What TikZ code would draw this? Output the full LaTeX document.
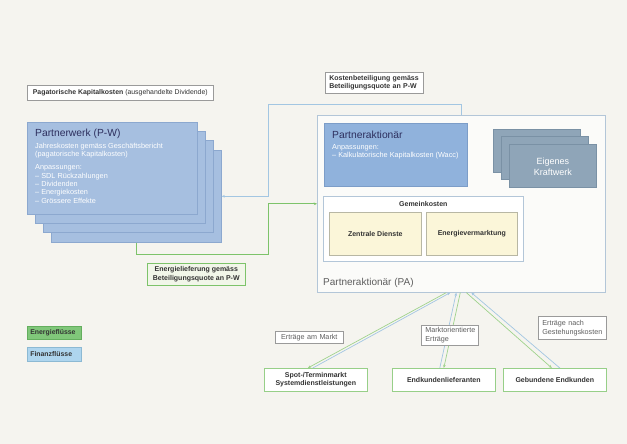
\documentclass[tikz,border=0pt]{standalone}
\usepackage{fontspec}
\setmainfont{Liberation Sans}
\usetikzlibrary{arrows.meta,calc}
\definecolor{bg}{HTML}{F5F4EF}
\definecolor{pwfill}{HTML}{A6BFE0}
\definecolor{pwborder}{HTML}{8CA8CF}
\definecolor{pafill}{HTML}{90B2DC}
\definecolor{paborder}{HTML}{7C9DC8}
\definecolor{kwfill}{HTML}{8FA5B8}
\definecolor{kwborder}{HTML}{7A91A5}
\definecolor{frameblue}{HTML}{B3C6D8}
\definecolor{lblborder}{HTML}{9A9A9A}
\definecolor{titlecol}{HTML}{2D2F5E}
\definecolor{txtdark}{HTML}{333333}
\definecolor{txtgray}{HTML}{5E5E5E}
\definecolor{yellowfill}{HTML}{FBF6D9}
\definecolor{yellowborder}{HTML}{B8B7A4}
\definecolor{engreen}{HTML}{7DC36A}
\definecolor{enlight}{HTML}{9FD28C}
\definecolor{finblue}{HTML}{A3C6E2}
\definecolor{legreen}{HTML}{80C77A}
\definecolor{legreenb}{HTML}{64AE5E}
\definecolor{leblue}{HTML}{AED5EE}
\definecolor{leblueb}{HTML}{8CB9D3}
\definecolor{energfill}{HTML}{F1F6E9}
\begin{document}
\begin{tikzpicture}[x=1pt,y=-1pt,
  box/.style={anchor=north west, inner sep=0pt, line width=0.6pt},
  pwcard/.style={box, draw=pwborder, fill=pwfill, minimum width=170pt, minimum height=92pt},
  kwcard/.style={box, draw=kwborder, fill=kwfill, minimum width=87pt, minimum height=43pt},
  lbl/.style={box, draw=lblborder, fill=white, inner xsep=4pt, font=\fontsize{7.2}{8.8}\selectfont, text=txtgray, align=left},
  blbl/.style={box, draw=lblborder, fill=white, font=\bfseries\fontsize{7}{8.6}\selectfont, text=txtdark, align=center},
  gbox/.style={box, draw=engreen!80!white, fill=white, font=\bfseries\fontsize{7}{8.6}\selectfont, text=txtdark, align=center, minimum width=103pt, minimum height=23pt},
  ybox/.style={box, draw=yellowborder, fill=yellowfill, font=\bfseries\fontsize{7}{8.4}\selectfont, text=txtdark, minimum width=91pt, minimum height=43pt},
  whitetxt/.style={anchor=north west, inner sep=0pt, text=white, align=left, font=\fontsize{7.3}{8.4}\selectfont},
  titletxt/.style={anchor=base west, inner sep=0pt, text=titlecol, font=\fontsize{10.3}{12}\selectfont},
  fin/.style={draw=finblue, line width=0.7pt},
  en/.style={draw=engreen, line width=0.9pt},
  enl/.style={draw=enlight, line width=0.7pt},
  tip/.style={-{Stealth[length=3.2pt,width=2.6pt]}}
]
\fill[bg] (0,0) rectangle (627,444);
\useasboundingbox (0,0) rectangle (627,444);

% label top-left
\node[box, draw=lblborder, fill=white, text=txtdark, font=\fontsize{6.9}{8.4}\selectfont,
  minimum width=186pt, minimum height=15pt] (pag) at (27,85)
  {\textbf{Pagatorische Kapitalkosten} (ausgehandelte Dividende)};

% Partnerwerk stack
\node[pwcard] (pw4) at (51,150) {};
\node[pwcard] (pw3) at (43,140) {};
\node[pwcard] (pw2) at (35,131) {};
\node[pwcard] (pw1) at (27,122) {};
\node[titletxt] (pwtitle) at ($(pw1.north west)+(8,14)$) {Partnerwerk (P-W)};
\node[whitetxt] (pwbody) at ($(pw1.north west)+(8,21)$)
  {Jahreskosten gemäss Geschäftsbericht\\(pagatorische Kapitalkosten)\\[4.5pt]
   Anpassungen:\\– SDL Rückzahlungen\\– Dividenden\\– Energiekosten\\– Grössere Effekte};

% Partneraktionaer outer box
\node[box, draw=frameblue, fill=white!60!bg, minimum width=288pt, minimum height=177pt] (pa) at (317,115) {};
\node[anchor=base west, inner sep=0pt, text=txtgray, font=\fontsize{10}{12}\selectfont] (palbl)
  at ($(pa.south west)+(6,-7)$) {Partneraktionär (PA)};

% Partneraktionaer inner card
\node[box, draw=paborder, fill=pafill, minimum width=143pt, minimum height=63pt] (pai) at (324,123) {};
\node[titletxt] (paititle) at ($(pai.north west)+(8,15)$) {Partneraktionär};
\node[whitetxt] (paibody) at ($(pai.north west)+(8,21)$)
  {Anpassungen:\\– Kalkulatorische Kapitalkosten (Wacc)};

% Eigenes Kraftwerk stack
\node[kwcard] (kw1) at (493,129) {};
\node[kwcard] (kw2) at (501,136) {};
\node[kwcard] (kw3) at (509,144) {};
\node[inner sep=0pt, text=white, align=center, font=\fontsize{9}{11.5}\selectfont] (kwtxt)
  at ($(kw3.center)+(0,1)$) {Eigenes\\Kraftwerk};

% Gemeinkosten
\node[box, draw=frameblue, fill=white, minimum width=200pt, minimum height=65pt] (gk) at (323,196) {};
\node[anchor=north, inner sep=0pt, text=txtdark, font=\bfseries\fontsize{7}{8.4}\selectfont] (gktitle)
  at ($(gk.north)+(0,5)$) {Gemeinkosten};
\node[ybox, minimum width=92pt] (zd) at (329,212) {Zentrale Dienste};
\node[ybox] (ev) at (426,212) {Energievermarktung};

% Kostenbeteiligung label
\node[lbl, text=txtdark, font=\bfseries\fontsize{7}{8.4}\selectfont, text width=90pt, minimum height=21pt] (kost) at (325,72)
  {Kostenbeteiligung gemäss\\Beteiligungsquote an P-W};

% Energielieferung label
\node[blbl, draw=engreen, fill=energfill, minimum width=98pt, minimum height=22pt] (energ) at (147,263)
  {Energielieferung gemäss\\Beteiligungsquote an P-W};

% connectors P-W <-> PA
\coordinate (fA) at (268,104);
\coordinate (gA) at (268,254);
\draw[fin, tip] (pa.north) |- (fA) |- (pw4.east);
\draw[en, tip] (pw4.south) |- (gA) |- (pa.west);

% bottom boxes
\node[gbox] (spot) at (264,368) {Spot-/Terminmarkt\\Systemdienstleistungen};
\node[gbox] (endk) at (392,368) {Endkundenlieferanten};
\node[gbox] (geb) at (503,368) {Gebundene Endkunden};

% bottom connectors
\draw[fin, tip] ($(spot.north)+(-3,0)$) -- ($(pa.south)+(-11,0)$);
\draw[enl, tip] ($(pa.south)+(-15,0)$) -- ($(spot.north)+(-8,0)$);
\draw[fin, tip] ($(endk.north)+(-4,0)$) -- ($(pa.south)+(-5,0)$);
\draw[enl, tip] ($(pa.south)+(-1,0)$) -- ($(endk.north)+(0,0)$);
\draw[fin, tip] ($(geb.north)+(5,0)$) -- ($(pa.south)+(10,0)$);
\draw[enl, tip] ($(pa.south)+(5,0)$) -- ($(geb.north)+(-3,0)$);

% bottom labels (drawn over the connectors)
\node[lbl, text width=60pt, minimum height=12pt, align=center] (ertm) at (275,331) {Erträge am Markt};
\node[lbl, text width=49pt, minimum height=20pt] (mo) at (421,325) {Marktorientierte\\Erträge};
\node[lbl, text width=60pt, minimum height=23pt] (ertn) at (538,316) {Erträge nach\\Gestehungskosten};

% legend
\node[box, draw=legreenb, fill=legreen, minimum width=54pt, minimum height=13pt, inner xsep=3pt,
  font=\bfseries\fontsize{6.9}{8}\selectfont, text=txtdark, text width=48pt, align=left] (leg1) at (27,326) {Energieflüsse};
\node[box, draw=leblueb, fill=leblue, minimum width=54pt, minimum height=14pt, inner xsep=3pt,
  font=\bfseries\fontsize{6.9}{8}\selectfont, text=txtdark, text width=48pt, align=left] (leg2) at (27,347) {Finanzflüsse};
\end{tikzpicture}
\end{document}
